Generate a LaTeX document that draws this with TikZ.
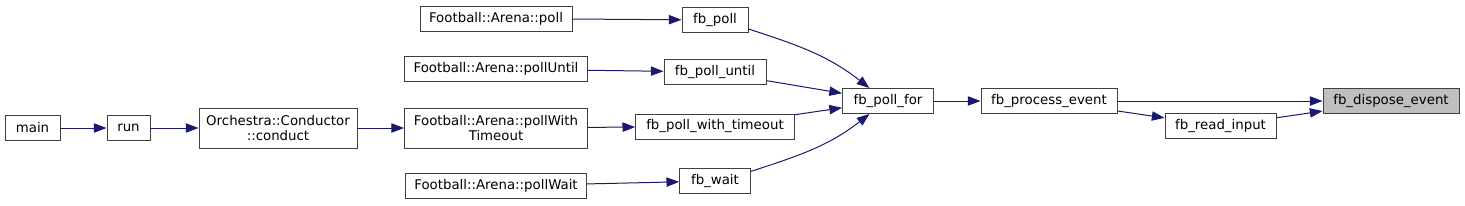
\documentclass[tikz,border=0pt]{standalone}
\usepackage{fontspec}
\setmainfont{DejaVu Sans}
\usetikzlibrary{arrows.meta}
\definecolor{edgecolor}  {RGB}{25, 25, 112}
\definecolor{focuscolor} {RGB}{191, 191, 191}
\definecolor{boxcolor}   {RGB}{255, 255, 255}
\tikzset{
	fnblock/.style={
		rectangle, inner sep=0pt,
		minimum height=18.75pt,
		align=center, font=\fontsize{10}{11.5}\selectfont,
		draw=black!75, line width=0.75pt, fill=boxcolor
	},
	callarrow/.style={
		-{Triangle[length=9.5pt, width=7pt]}, line width=0.75pt, color=edgecolor
	}
}
\begin{document}
\begin{tikzpicture}[x=0.75pt, y=0.75pt]
		\useasboundingbox (0,0) rectangle (1465,-205);
		
		%% ═══════════════════════════════
		%%  COLUMN 0..2 — main, run, conduct
		%% ═══════════════════════════════
		\node[fnblock, minimum width=41.25pt]  (main)    at (32.5,-128) {main};
		\node[fnblock, minimum width=32.25pt]  (run)     at (128.5,-128) {run};
		\node[fnblock, minimum width=118.5pt,
		minimum height=30pt]                   (conduct) at (278,-128) {Orchestra::Conductor\\::conduct};
		
		%% ═══════════════════════════════
		%%  COLUMN 3 — Football::Arena
		%% ═══════════════════════════════
		\node[fnblock, minimum width=114pt]    (apoll)    at (496,-18.5) {Football::Arena::poll};
		\node[fnblock, minimum width=137.25pt] (apolluntil) at (496,-69)  {Football::Arena::pollUntil};
		\node[fnblock, minimum width=137.25pt,
		minimum height=30pt]                   (apolltimeout) at (496,-128) {Football::Arena::pollWith\\Timeout};
		\node[fnblock, minimum width=136pt]    (apollwait) at (496,-186)  {Football::Arena::pollWait};
		
		%% ═══════════════════════════════
		%%  COLUMN 4 — fb_poll*
		%% ═══════════════════════════════
		\node[fnblock, minimum width=49.5pt]   (fbpoll)    at (715,-20)    {fb\_poll};
		\node[fnblock, minimum width=76.5pt]   (fbpolluntil) at (715,-72)  {fb\_poll\_until};
		\node[fnblock, minimum width=119pt]    (fbpolltimeout) at (715,-126.5) {fb\_poll\_with\_timeout};
		\node[fnblock, minimum width=53pt]     (fbwait)    at (715,-181)   {fb\_wait};
		
		%% ═══════════════════════════════
		%%  COLUMN 5..8
		%% ═══════════════════════════════
		\node[fnblock, minimum width=68.25pt]  (pollfor)   at (888,-101)   {fb\_poll\_for};
		\node[fnblock, minimum width=102pt]    (process)   at (1049,-101)  {fb\_process\_event};
		\node[fnblock, minimum width=83.25pt]  (readinput) at (1220.5,-126) {fb\_read\_input};
		\node[fnblock, minimum width=102pt,
		fill=focuscolor]                       (dispose)   at (1391,-101)  {fb\_dispose\_event};
		
		%% ═══════════════════════════════
		%%  ARROWS
		%% ═══════════════════════════════
		
		% main → conduct
		\draw[callarrow] (main) -- (run);
		\draw[callarrow] (run) -- (conduct);
		\draw[callarrow] (conduct) -- (apolltimeout);
		
		% Arena → fb_poll*
		\draw[callarrow] (apoll) -- (fbpoll);
		\draw[callarrow] (apolluntil) -- (fbpolluntil);
		\draw[callarrow] (apolltimeout) -- (fbpolltimeout);
		\draw[callarrow] (apollwait) -- (fbwait);
		
		% fb_poll* → fb_poll_for
		\draw[callarrow] (fbpoll.-15) to[out=-18, in=142] (pollfor.145);
		\draw[callarrow] (fbpolluntil) -- (pollfor);
		\draw[callarrow] (fbpolltimeout) -- (pollfor);
		\draw[callarrow] (fbwait.15) to[out=18, in=-142] (pollfor.-145);
		
		% fb_poll_for → fb_dispose_event
		\draw[callarrow] (pollfor) -- (process);
		\draw[callarrow] (process) -- (dispose);
		\draw[callarrow] (process) -- (readinput);
		\draw[callarrow] (readinput) -- (dispose);
	\end{tikzpicture}
\end{document}
